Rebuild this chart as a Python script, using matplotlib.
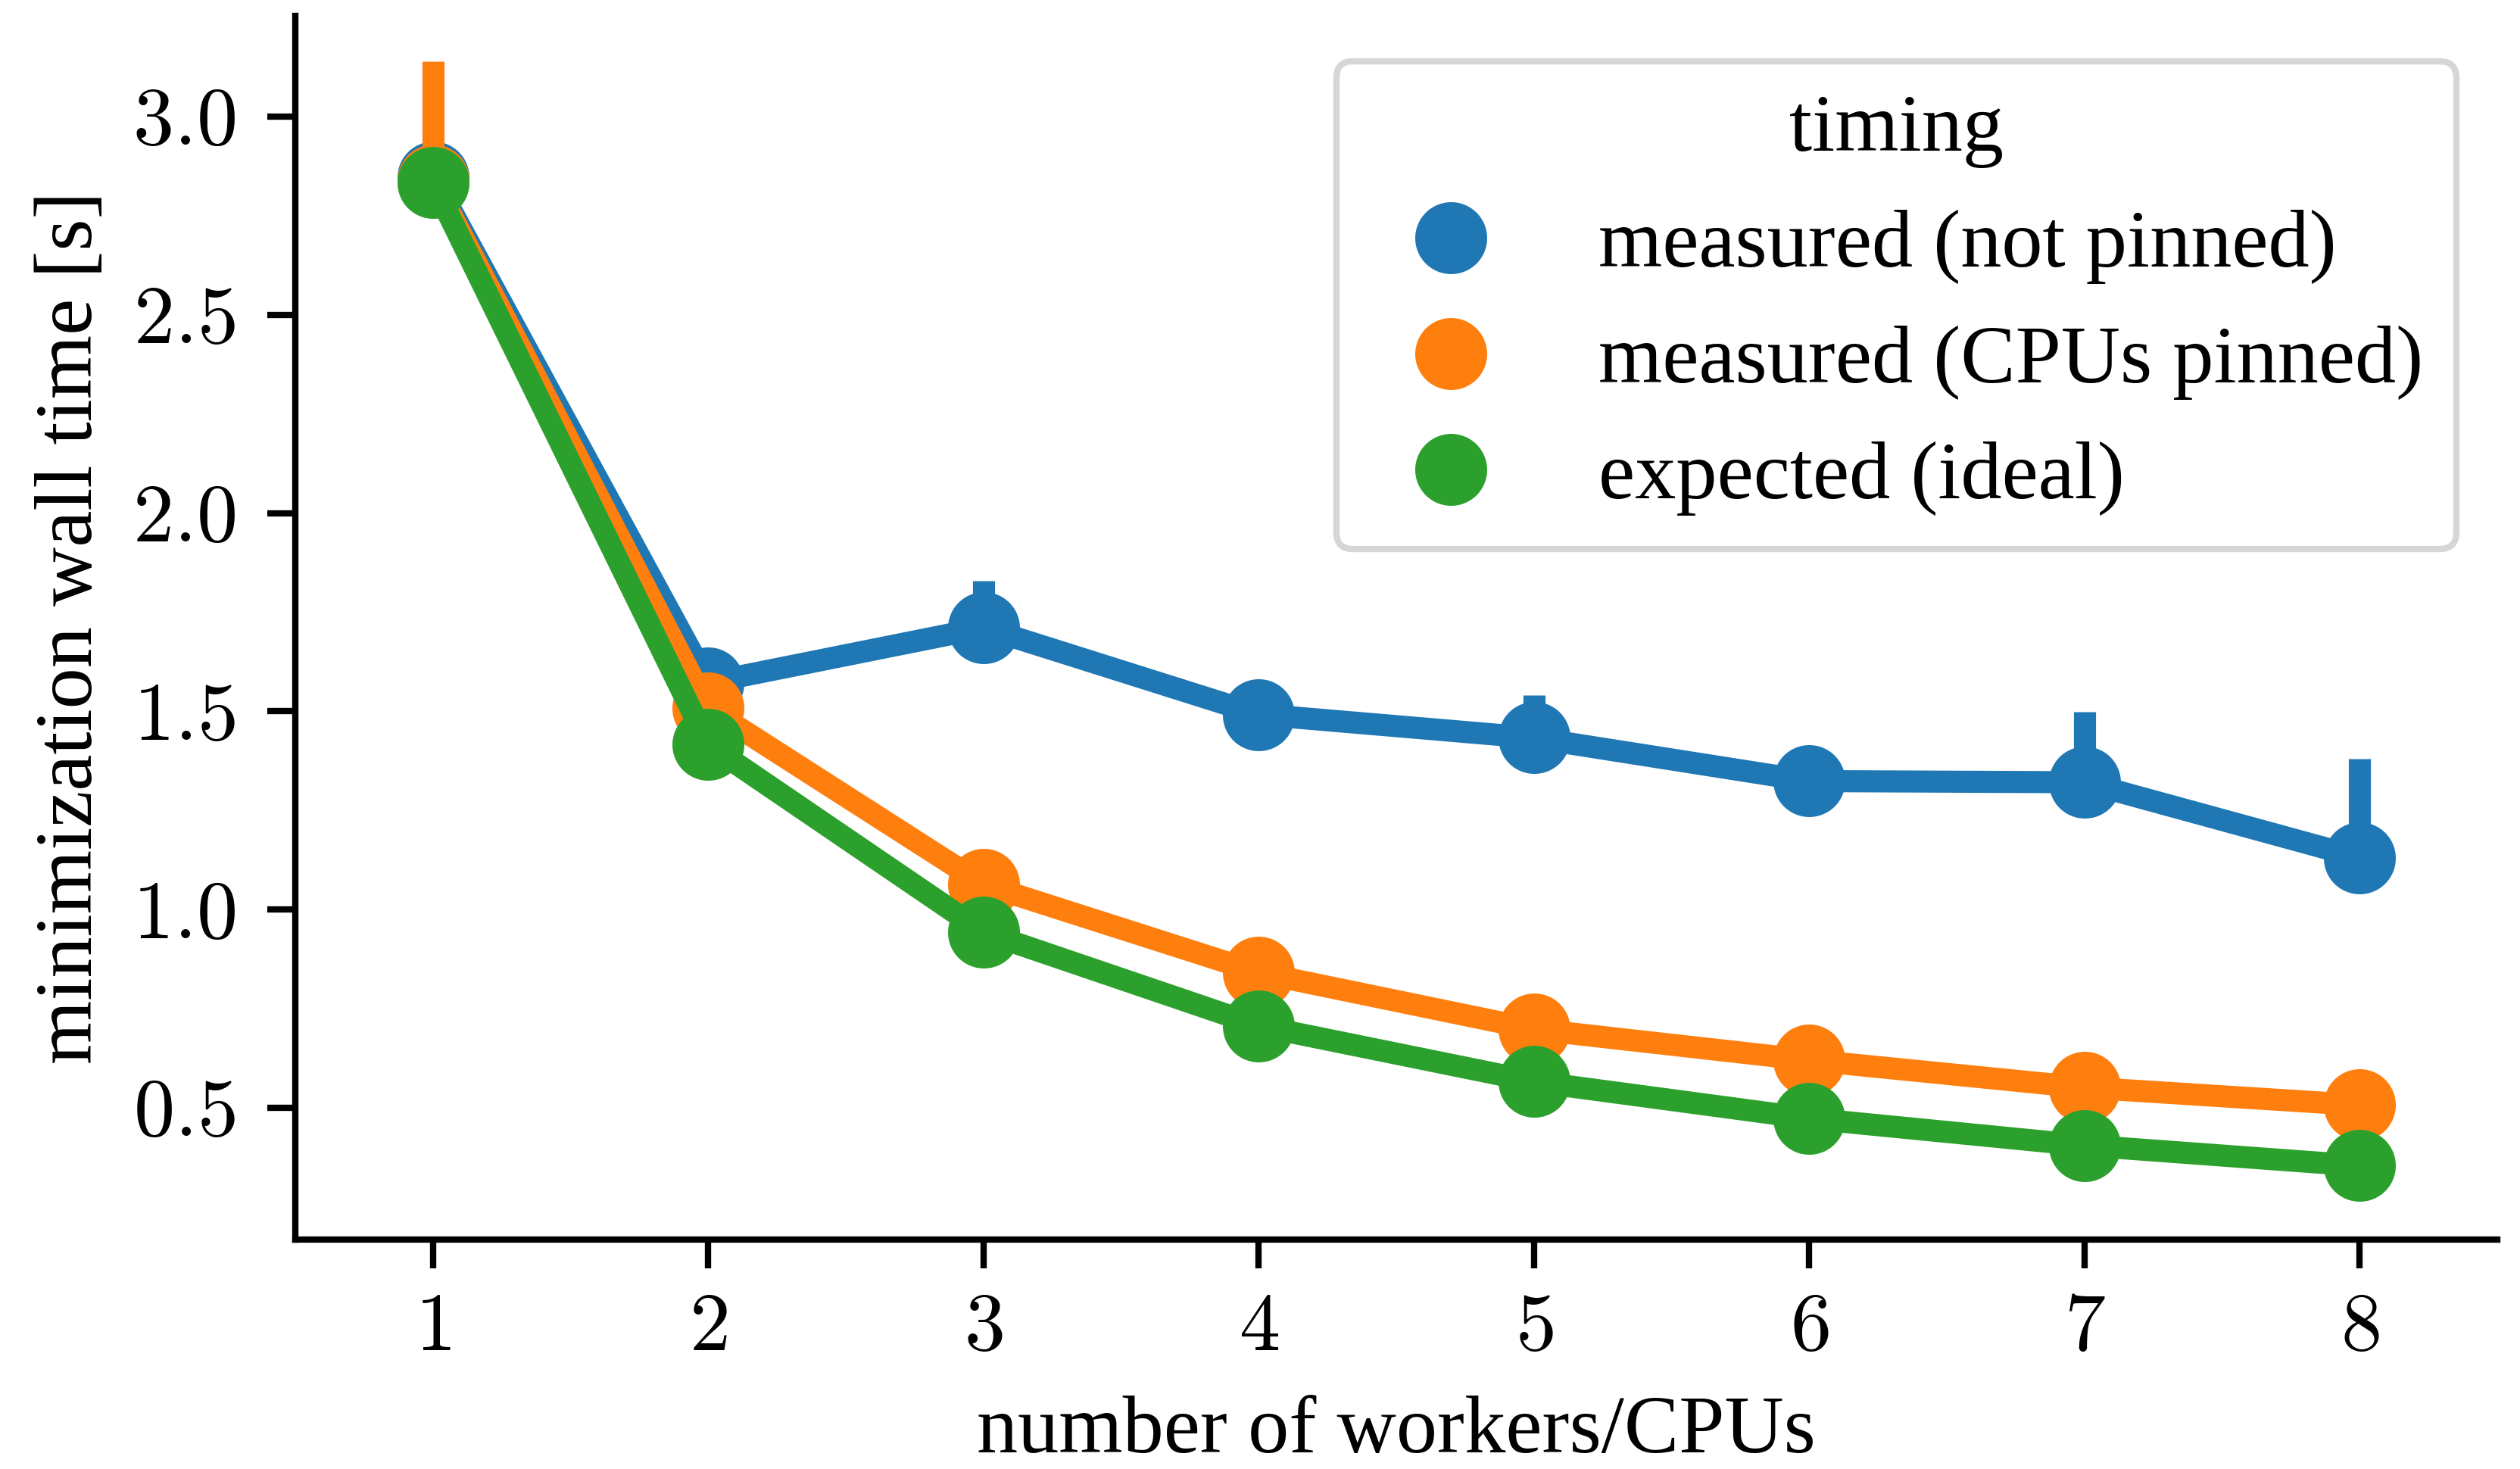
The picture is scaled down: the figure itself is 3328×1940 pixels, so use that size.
import numpy as np
from matplotlib import pyplot as plt
from matplotlib.lines import Line2D
from matplotlib.ticker import FormatStrFormatter

plt.rcParams['font.family'] = 'Liberation Serif'
plt.rcParams['mathtext.fontset'] = 'cm'
plt.rcParams['font.size'] = 26

# wall time of the minimization per number of workers (seconds)
workers = [1, 2, 3, 4, 5, 6, 7, 8]
labels = ['measured (not pinned)', 'measured (CPUs pinned)', 'expected (ideal)']
colors = ['#1f77b4', '#ff7f0e', '#2ca02c']

not_pinned = [2.848, 1.572, 1.711, 1.492, 1.433, 1.324, 1.321, 1.131]
not_pinned_lo = [2.84, 1.565, 1.70, 1.485, 1.425, 1.318, 1.315, 1.12]
not_pinned_hi = [2.86, 1.58, 1.83, 1.50, 1.54, 1.33, 1.499, 1.381]

pinned = [2.840, 1.508, 1.063, 0.841, 0.698, 0.620, 0.551, 0.507]
pinned_lo = [2.83, 1.50, 1.055, 0.835, 0.692, 0.615, 0.546, 0.502]
pinned_hi = [3.139, 1.52, 1.07, 0.848, 0.704, 0.626, 0.556, 0.512]

ideal = [2.833, 1.416, 0.943, 0.707, 0.566, 0.473, 0.405, 0.354]

data = [(not_pinned, not_pinned_lo, not_pinned_hi),
        (pinned, pinned_lo, pinned_hi),
        (ideal, None, None)]

fig = plt.figure(figsize=(3329 / 300, 1940 / 300), dpi=300)
ax = fig.add_axes([0.1172, 0.1563, 0.8735, 0.8329])

pos = np.arange(len(workers))
for (mean, lo, hi), col in zip(data, colors):
    if lo is not None:
        for x, l, h in zip(pos, lo, hi):
            ax.plot([x, x], [l, h], color=col, lw=7, solid_capstyle='butt')
    ax.plot(pos, mean, color=col, lw=7, marker='o', ms=22.8, markeredgewidth=0)

ax.set_xlim(-0.5, 7.5)
ax.set_ylim(0.168, 3.254)
ax.set_xticks(pos)
ax.set_xticklabels(['$%d$' % w for w in workers])
ax.set_yticks([0.5, 1.0, 1.5, 2.0, 2.5, 3.0])
ax.yaxis.set_major_formatter(FormatStrFormatter('$%.1f$'))
ax.tick_params(width=2, length=9)
ax.tick_params(axis='y', pad=10)
ax.tick_params(axis='x', pad=8)
for s in ['top', 'right']:
    ax.spines[s].set_visible(False)
for s in ['left', 'bottom']:
    ax.spines[s].set_linewidth(2)

ax.set_xlabel('number of workers/CPUs', labelpad=9)
ax.set_ylabel('minimization wall time [s]', labelpad=7.5)

handles = [Line2D([], [], color=c, marker='o', ms=22.8, linestyle='none', markeredgewidth=0)
           for c in colors]
leg = ax.legend(handles, labels, title='timing', loc='upper right',
                bbox_to_anchor=(0.9814, 0.9629), borderaxespad=0)
leg.get_title().set_fontsize(26)
leg.get_frame().set_linewidth(2)

plt.savefig('out.png', dpi=300)
